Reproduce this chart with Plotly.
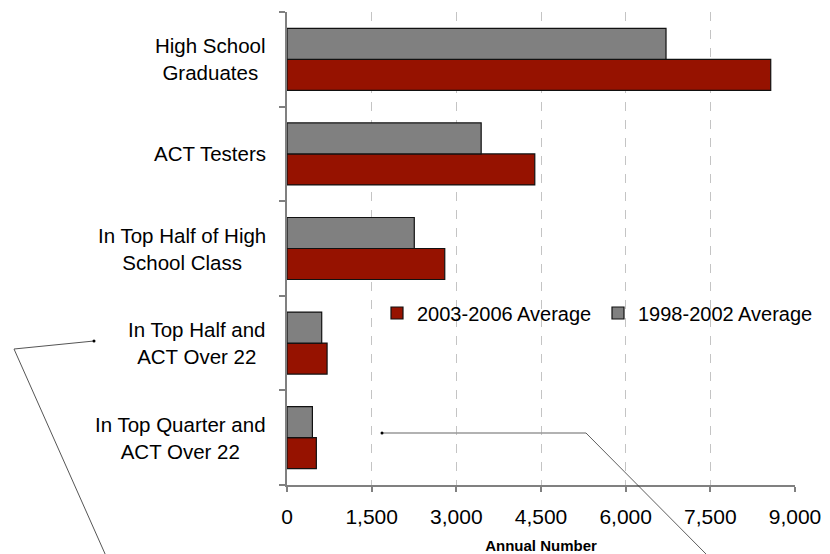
import plotly.graph_objects as go

categories = [
    "High School<br>Graduates",
    "ACT Testers",
    "In Top Half of High<br>School Class",
    "In Top Half and<br>ACT Over 22",
    "In Top Quarter and<br>ACT Over 22",
]
series_names = ["2003-2006 Average", "1998-2002 Average"]
avg_2003_2006 = [8570, 4390, 2795, 710, 520]
avg_1998_2002 = [6715, 3440, 2255, 615, 450]
x_ticks = [0, 1500, 3000, 4500, 6000, 7500, 9000]
x_title = "Annual Number"

RED = "#961200"
GRAY = "#808080"
FONT = "Liberation Sans, Arial, sans-serif"

fig = go.Figure()
fig.add_trace(go.Bar(
    y=categories, x=avg_2003_2006, name=series_names[0], orientation="h",
    marker=dict(color=RED, line=dict(color="#111111", width=1.2)),
))
fig.add_trace(go.Bar(
    y=categories, x=avg_1998_2002, name=series_names[1], orientation="h",
    marker=dict(color=GRAY, line=dict(color="#111111", width=1.2)),
))

# centred multi-line category labels
annotations = []
for c in categories:
    annotations.append(dict(
        x=-0.037, xref="paper", xanchor="right", y=c, yref="y",
        text=c, showarrow=False, align="center",
        font=dict(family=FONT, size=20.5, color="black"),
    ))

# leftover callout leader lines from the original figure (page pixel -> paper)
def px(xp):
    return (xp - 287) / 508.0

def py(yp):
    return (485 - yp) / 473.0

shapes = [
    dict(type="line", xref="paper", yref="paper", x0=px(94), y0=py(341), x1=px(14), y1=py(349),
         line=dict(color="#555555", width=1)),
    dict(type="line", xref="paper", yref="paper", x0=px(14), y0=py(349), x1=px(106), y1=py(556),
         line=dict(color="#555555", width=1)),
    dict(type="circle", xref="paper", yref="paper", x0=px(92.5), y0=py(339.5), x1=px(95.5), y1=py(342.5),
         fillcolor="black", line=dict(color="black", width=0)),
    dict(type="line", xref="paper", yref="paper", x0=px(382), y0=py(433), x1=px(586), y1=py(433),
         line=dict(color="#999999", width=1.5)),
    dict(type="line", xref="paper", yref="paper", x0=px(586), y0=py(433), x1=px(708), y1=py(556),
         line=dict(color="#333333", width=0.8)),
    dict(type="circle", xref="paper", yref="paper", x0=px(380.5), y0=py(431.5), x1=px(383.5), y1=py(434.5),
         fillcolor="black", line=dict(color="black", width=0)),
]

fig.update_layout(
    width=822, height=546,
    margin=dict(l=279, r=35, t=4, b=69, autoexpand=False),
    paper_bgcolor="white", plot_bgcolor="white",
    barmode="group", bargap=0.345, bargroupgap=0,
    font=dict(family=FONT, size=21, color="black"),
    showlegend=True,
    legend=dict(
        orientation="h", x=px(377), y=py(313), xanchor="left", yanchor="middle",
        font=dict(family=FONT, size=20, color="black"),
        bgcolor="rgba(0,0,0,0)", traceorder="normal",
        itemwidth=30, entrywidth=176, entrywidthmode="pixels", tracegroupgap=0,
    ),
    annotations=annotations,
    shapes=shapes,
    xaxis=dict(
        range=[0, 9000], tickvals=x_ticks, tickformat=",",
        showgrid=True, gridcolor="#c4c4c4", griddash="dash", gridwidth=1,
        zeroline=False, showline=True, linecolor="#808080", linewidth=1.5,
        ticks="outside", ticklen=5, tickcolor="#808080", tickwidth=1.5,
        ticklabelstandoff=7, automargin=False,
        tickfont=dict(family=FONT, size=21, color="black"),
        title=dict(text="<b>" + x_title + "</b>", font=dict(family=FONT, size=15, color="black"), standoff=16),
        fixedrange=True,
    ),
    yaxis=dict(
        type="category", categoryorder="array", categoryarray=categories[::-1],
        showticklabels=False, showgrid=False, zeroline=False,
        showline=True, linecolor="#808080", linewidth=1.5,
        ticks="outside", tickson="boundaries", ticklen=6, tickcolor="#808080", tickwidth=1.5,
        automargin=False, fixedrange=True,
    ),
)

fig.write_html("out.html")
